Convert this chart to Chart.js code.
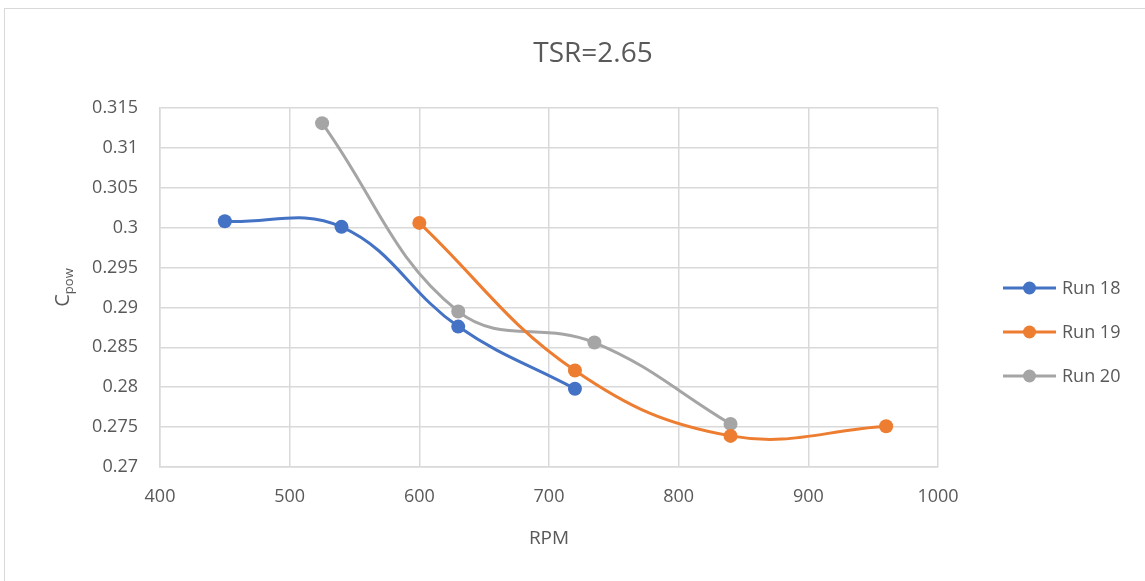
<!DOCTYPE html>
<html>
<head>
<meta charset="utf-8">
<script src="https://cdn.jsdelivr.net/npm/chart.js@4.4.1/dist/chart.umd.min.js"></script>
<style>
  html, body { margin: 0; padding: 0; background: #fff; }
  #wrap { position: relative; width: 1145px; height: 581px; overflow: hidden; }
  #frame { position: absolute; left: 4px; top: 8px; width: 1200px; height: 700px; border: 1px solid #d9d9d9; }
  canvas { position: absolute; left: 0; top: 0; }
</style>
</head>
<body>
<div id="wrap">
  <div id="frame"></div>
  <canvas id="chart" width="1145" height="581"></canvas>
</div>
<script>
const run18_rpm = [450, 540, 630, 720];
const run18_cpow = [0.3008, 0.3001, 0.2876, 0.2798];
const run19_rpm = [600, 720, 840, 960];
const run19_cpow = [0.3006, 0.2821, 0.2739, 0.2751];
const run20_rpm = [525, 630, 735, 840];
const run20_cpow = [0.3131, 0.2895, 0.2856, 0.2754];

const seriesNames = ['Run 18', 'Run 19', 'Run 20'];
const seriesColors = ['#4472C4', '#ED7D31', '#A5A5A5'];

const chartTitle = 'TSR=2.65';
const xTitle = 'RPM';
const textColor = '#595959';
const fontFamily = '"Open Sans", "Noto Sans", sans-serif';

function toPoints(xs, ys) {
  return xs.map((x, i) => ({ x: x, y: ys[i] }));
}

const allSeries = [
  toPoints(run18_rpm, run18_cpow),
  toPoints(run19_rpm, run19_cpow),
  toPoints(run20_rpm, run20_cpow)
];

// title, y-axis label with subscript and legend drawn by hand
const extras = {
  id: 'extras',
  afterDraw(chart) {
    const ctx = chart.ctx;
    const area = chart.chartArea;
    ctx.save();
    ctx.fillStyle = textColor;

    ctx.font = '28px ' + fontFamily;
    ctx.textAlign = 'center';
    ctx.textBaseline = 'middle';
    ctx.fillText(chartTitle, 593, 54);

    // C with "pow" subscript, rotated
    ctx.translate(62, (area.top + area.bottom) / 2);
    ctx.rotate(-Math.PI / 2);
    ctx.font = '20px ' + fontFamily;
    const cw = ctx.measureText('C').width;
    ctx.font = '13px ' + fontFamily;
    const sw = ctx.measureText('pow').width;
    const start = -(cw + sw) / 2;
    ctx.textAlign = 'left';
    ctx.textBaseline = 'alphabetic';
    ctx.font = '20px ' + fontFamily;
    ctx.fillText('C', start, 7);
    ctx.font = '13px ' + fontFamily;
    ctx.fillText('pow', start + cw, 11);
    ctx.restore();

    // legend
    ctx.save();
    chart.data.datasets.forEach((ds, i) => {
      const y = 288 + i * 44;
      ctx.strokeStyle = ds.borderColor;
      ctx.lineWidth = 3;
      ctx.beginPath();
      ctx.moveTo(1003, y);
      ctx.lineTo(1056, y);
      ctx.stroke();
      ctx.fillStyle = ds.borderColor;
      ctx.beginPath();
      ctx.arc(1029.5, y, 6.5, 0, Math.PI * 2);
      ctx.fill();
      ctx.fillStyle = textColor;
      ctx.font = '18px ' + fontFamily;
      ctx.textAlign = 'left';
      ctx.textBaseline = 'middle';
      ctx.fillText(ds.label, 1062, y + 1);
    });
    ctx.restore();
  }
};

new Chart(document.getElementById('chart'), {
  type: 'scatter',
  data: {
    datasets: allSeries.map((pts, i) => ({
      label: seriesNames[i],
      data: pts,
      showLine: true,
      borderColor: seriesColors[i],
      backgroundColor: seriesColors[i],
      borderWidth: 3,
      pointRadius: 7,
      pointHoverRadius: 7,
      pointBorderWidth: 0,
      tension: 0.4,
      cubicInterpolationMode: 'default'
    }))
  },
  options: {
    responsive: false,
    animation: false,
    devicePixelRatio: 1,
    layout: { padding: { top: 108, right: 207, left: 0, bottom: 27 } },
    plugins: {
      legend: { display: false },
      tooltip: { enabled: false }
    },
    scales: {
      x: {
        type: 'linear',
        min: 400,
        max: 1000,
        ticks: {
          stepSize: 100,
          color: textColor,
          font: { family: fontFamily, size: 18 },
          padding: 19,
          callback: (v) => String(v)
        },
        grid: { color: '#d9d9d9', lineWidth: 1.5, drawTicks: false },
        border: { color: '#d9d9d9', width: 1.5 },
        title: {
          display: true,
          text: xTitle,
          color: textColor,
          font: { family: fontFamily, size: 19 },
          padding: { top: 14 }
        },
        afterFit(scale) { scale.height = 87; }
      },
      y: {
        type: 'linear',
        min: 0.27,
        max: 0.315,
        ticks: {
          stepSize: 0.005,
          color: textColor,
          font: { family: fontFamily, size: 18 },
          padding: 22,
          callback: (v) => parseFloat(Number(v).toFixed(3)).toString()
        },
        grid: { color: '#d9d9d9', lineWidth: 1.5, drawTicks: false },
        border: { color: '#d9d9d9', width: 1.5 },
        afterFit(scale) { scale.width = 160; }
      }
    }
  },
  plugins: [extras]
});
</script>
</body>
</html>
